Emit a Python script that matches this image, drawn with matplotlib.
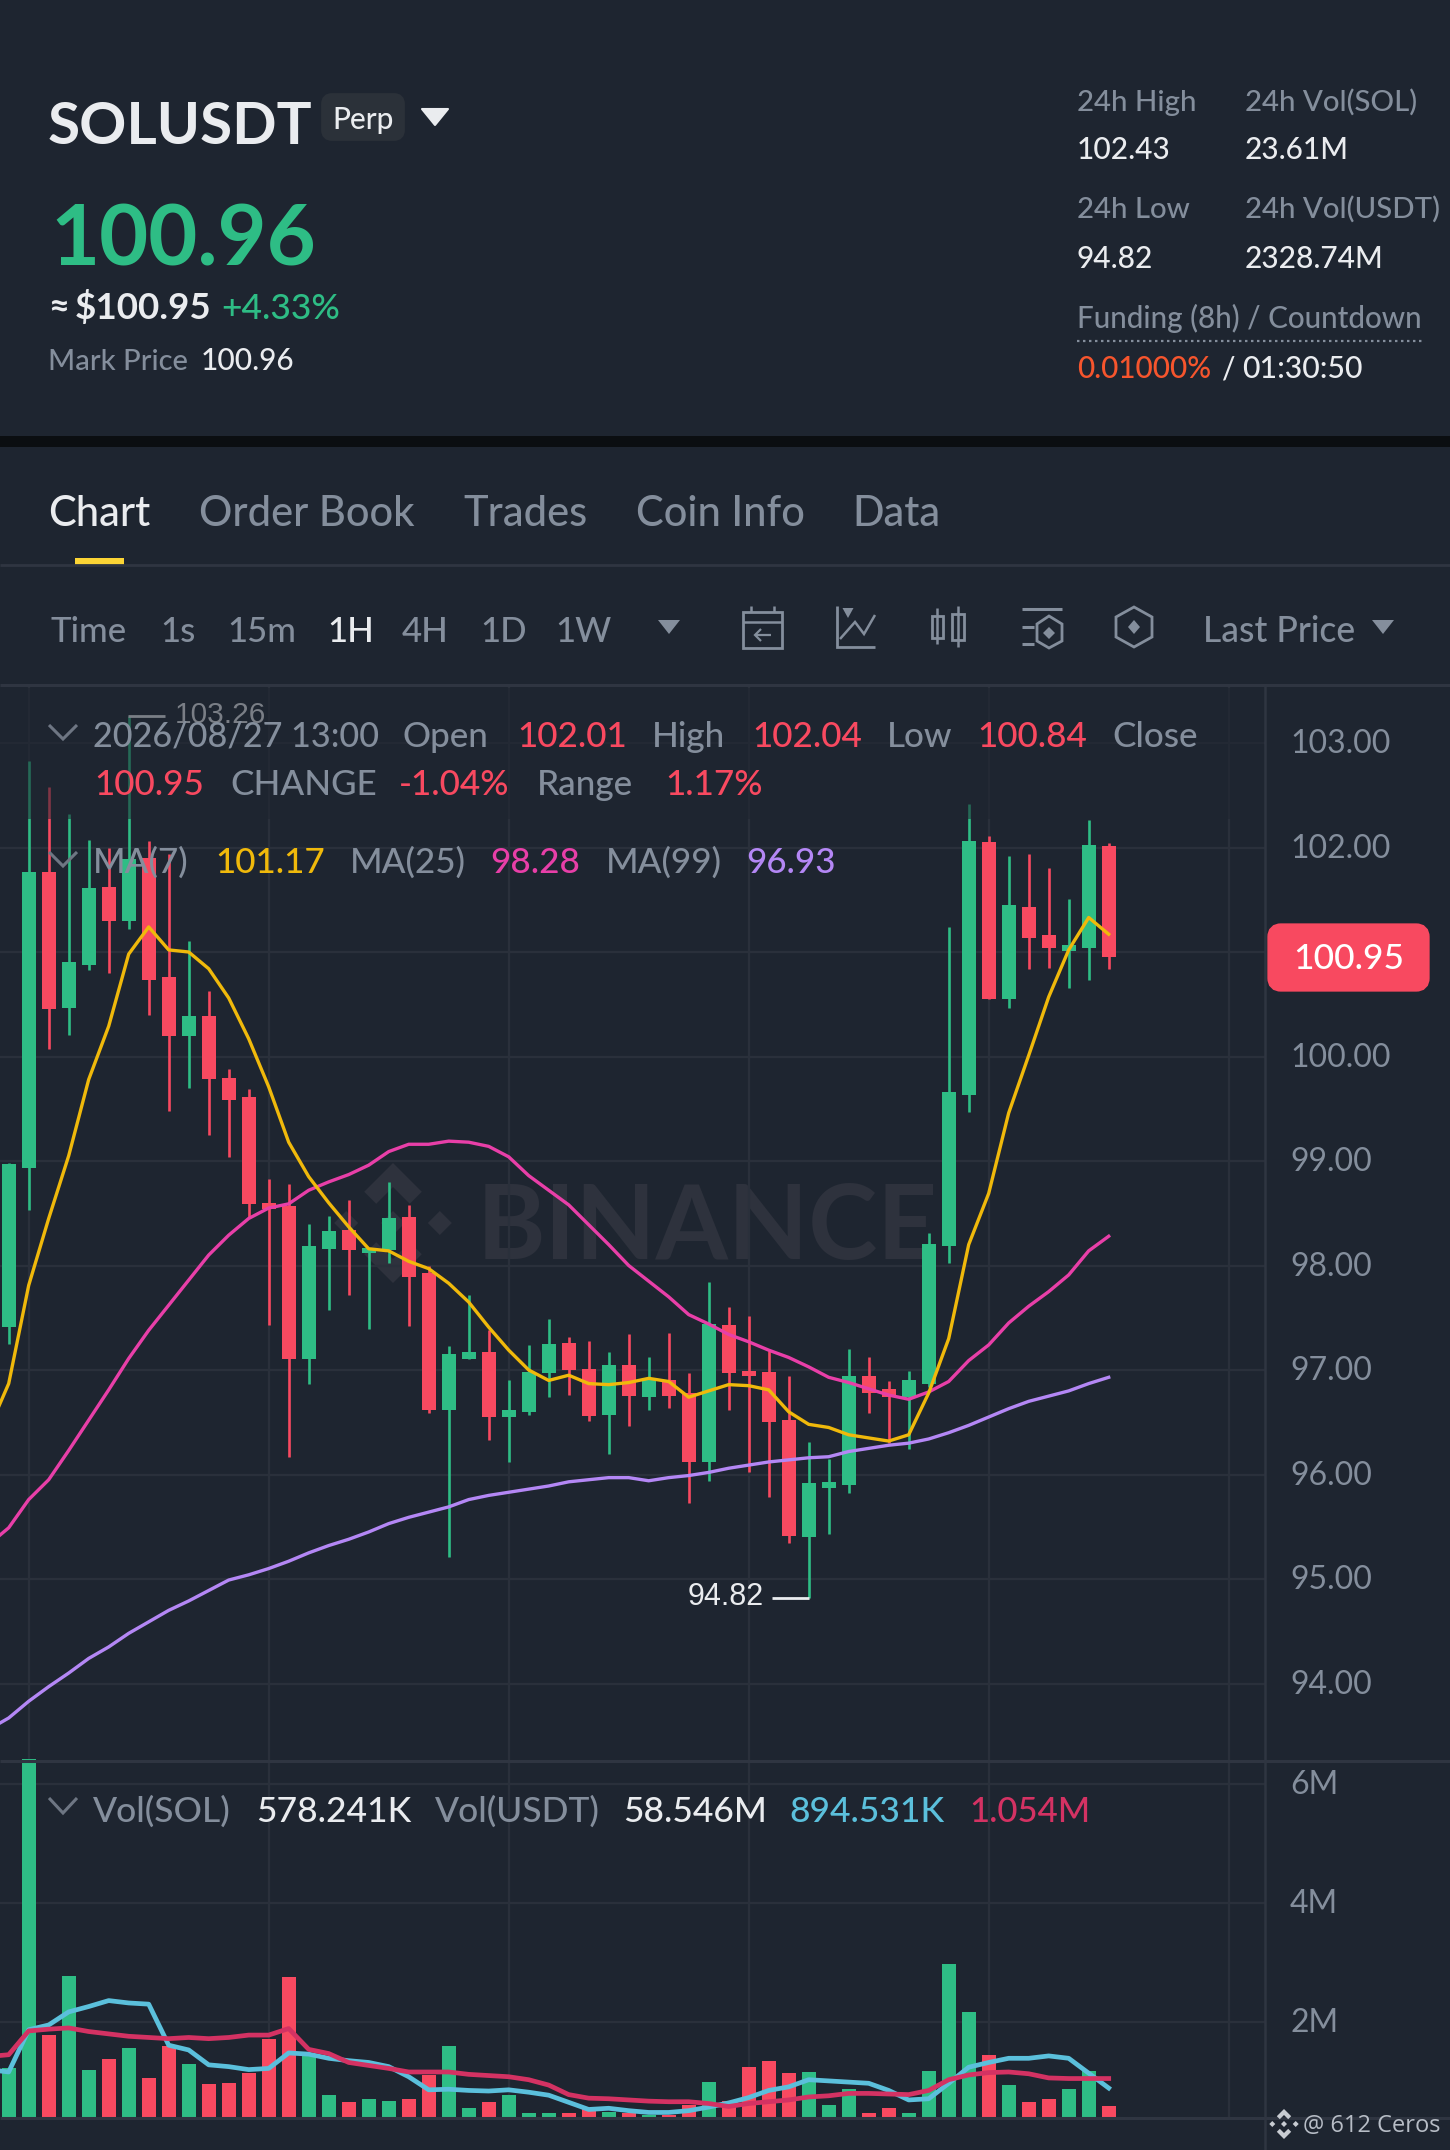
import numpy as np
import matplotlib
matplotlib.use('Agg')
import matplotlib.pyplot as plt
from matplotlib.patches import Polygon, Rectangle, FancyBboxPatch
from matplotlib.transforms import ScaledTranslation

plt.rcParams['font.family'] = ['Lato', 'DejaVu Sans']

# candles
opens = [97.41, 98.93, 101.77, 100.46, 100.88, 101.62, 101.30, 101.90, 100.76, 100.20, 100.39, 99.79, 99.61, 98.60,
         98.57, 97.11, 98.16, 98.34, 98.12, 98.15, 98.46, 97.93, 96.62, 97.11, 97.17, 96.55, 96.60, 96.97,
         97.26, 97.01, 96.57, 97.05, 96.74, 96.90, 96.78, 96.12, 97.43, 96.99, 96.98, 96.52, 95.40, 95.87,
         95.90, 96.94, 96.82, 96.74, 96.87, 98.19, 99.63, 102.05, 100.55, 101.43, 101.16, 101.01, 101.04, 102.01]
highs = [98.98, 102.83, 102.58, 102.32, 102.07, 102.00, 103.26, 102.06, 101.94, 101.11, 100.63, 99.88, 99.69, 98.83,
         98.78, 98.40, 98.47, 98.63, 98.17, 98.80, 98.58, 98.00, 97.23, 97.72, 97.38, 96.90, 97.24, 97.49,
         97.32, 97.28, 97.17, 97.34, 97.12, 97.35, 96.97, 97.84, 97.60, 97.52, 97.18, 96.94, 96.31, 96.15,
         97.20, 97.12, 96.89, 96.99, 98.31, 101.24, 102.42, 102.11, 101.92, 101.94, 101.80, 101.51, 102.26, 102.04]
lows = [97.25, 98.53, 100.07, 100.21, 100.83, 100.80, 101.22, 100.40, 99.48, 99.70, 99.25, 99.04, 98.45, 97.43,
        96.17, 96.87, 97.57, 97.72, 97.39, 98.02, 97.42, 96.59, 95.21, 97.11, 96.33, 96.12, 96.57, 96.74,
        96.76, 96.51, 96.20, 96.46, 96.62, 96.64, 95.73, 95.94, 96.62, 96.02, 95.78, 95.34, 94.82, 95.43,
        95.82, 96.59, 96.30, 96.24, 96.84, 98.02, 99.47, 100.55, 100.46, 100.84, 100.85, 100.66, 100.73, 100.84]
closes = [98.97, 101.77, 100.45, 100.90, 101.61, 101.30, 101.89, 100.73, 100.20, 100.39, 99.78, 99.58, 98.59, 98.54,
          97.11, 98.19, 98.33, 98.15, 98.17, 98.45, 97.89, 96.62, 97.15, 97.17, 96.55, 96.62, 96.98, 97.25,
          97.00, 96.56, 97.05, 96.75, 96.90, 96.75, 96.12, 97.44, 96.97, 96.94, 96.50, 95.41, 95.92, 95.93,
          96.94, 96.78, 96.74, 96.90, 98.21, 99.66, 102.06, 100.55, 101.45, 101.13, 101.04, 101.07, 102.02, 100.95]
volumes = [1.22, 6.42, 1.78, 2.78, 1.20, 1.37, 1.57, 1.06, 1.60, 1.29, 0.96, 0.98, 1.14, 1.72,
           2.76, 1.45, 0.78, 0.66, 0.70, 0.67, 0.71, 1.11, 1.59, 0.55, 0.66, 0.77, 0.47, 0.47,
           0.47, 0.53, 0.49, 0.47, 0.44, 0.44, 0.61, 1.00, 0.67, 1.24, 1.34, 1.15, 1.16, 0.60,
           0.88, 0.47, 0.55, 0.47, 1.18, 2.97, 2.17, 1.45, 0.94, 0.65, 0.71, 0.87, 1.18, 0.58]

# moving averages, first value is the candle just left of the frame
ma7 = [96.43, 96.87, 97.81, 98.45, 99.05, 99.78, 100.29, 100.98, 101.24, 101.02, 101.00, 100.84, 100.56, 100.17, 99.71,
       99.18, 98.85, 98.60, 98.37, 98.16, 98.14, 98.04, 97.97, 97.83, 97.65, 97.41, 97.19, 97.00, 96.90,
       96.95, 96.87, 96.86, 96.88, 96.92, 96.89, 96.74, 96.80, 96.86, 96.85, 96.81, 96.60, 96.48, 96.45,
       96.38, 96.35, 96.32, 96.38, 96.78, 97.30, 98.20, 98.69, 99.46, 100.01, 100.57, 101.02, 101.33, 101.17]
ma25 = [95.33, 95.49, 95.76, 95.95, 96.23, 96.52, 96.81, 97.11, 97.38, 97.62, 97.86, 98.10, 98.29, 98.45, 98.55,
        98.59, 98.72, 98.80, 98.87, 98.96, 99.09, 99.16, 99.16, 99.19, 99.18, 99.14, 99.04, 98.86, 98.72,
        98.58, 98.39, 98.20, 98.00, 97.85, 97.70, 97.53, 97.44, 97.34, 97.27, 97.19, 97.12, 97.03, 96.93,
        96.88, 96.82, 96.76, 96.72, 96.79, 96.89, 97.09, 97.24, 97.45, 97.61, 97.75, 97.91, 98.14, 98.28]
ma99 = [93.56, 93.67, 93.83, 93.97, 94.10, 94.24, 94.35, 94.48, 94.59, 94.70, 94.79, 94.89, 94.99, 95.04, 95.10,
        95.17, 95.25, 95.32, 95.38, 95.45, 95.53, 95.59, 95.64, 95.69, 95.76, 95.80, 95.83, 95.86, 95.89,
        95.93, 95.95, 95.97, 95.97, 95.94, 95.97, 95.99, 96.02, 96.06, 96.09, 96.12, 96.14, 96.16, 96.17,
        96.22, 96.25, 96.28, 96.30, 96.34, 96.40, 96.47, 96.55, 96.63, 96.70, 96.75, 96.80, 96.87, 96.93]
vol_ma_fast = [1.20, 1.16, 1.87, 1.95, 2.17, 2.26, 2.36, 2.32, 2.30, 1.61, 1.53, 1.28, 1.25, 1.20, 1.22,
               1.48, 1.46, 1.39, 1.35, 1.32, 1.25, 1.08, 0.86, 0.87, 0.85, 0.84, 0.86, 0.82, 0.77,
               0.65, 0.53, 0.55, 0.51, 0.48, 0.48, 0.51, 0.57, 0.64, 0.73, 0.85, 0.91, 1.03, 1.01,
               0.99, 0.97, 0.85, 0.69, 0.71, 0.97, 1.24, 1.32, 1.39, 1.39, 1.43, 1.39, 1.14, 0.89]
vol_ma_slow = [1.42, 1.45, 1.85, 1.88, 1.90, 1.84, 1.80, 1.76, 1.74, 1.72, 1.74, 1.72, 1.74, 1.78, 1.78,
               1.89, 1.54, 1.47, 1.32, 1.27, 1.22, 1.16, 1.16, 1.16, 1.12, 1.10, 1.08, 1.03, 0.94,
               0.78, 0.72, 0.71, 0.69, 0.67, 0.66, 0.66, 0.63, 0.58, 0.63, 0.66, 0.69, 0.74, 0.76,
               0.80, 0.80, 0.79, 0.78, 0.85, 1.03, 1.11, 1.15, 1.16, 1.13, 1.06, 1.05, 1.05, 1.05]

price_ticks = [94, 95, 96, 97, 98, 99, 100, 101, 102, 103]
# 101.00 sits under the last price tag, so it has no label
price_tick_labels = ['94.00', '95.00', '96.00', '97.00', '98.00', '99.00', '100.00', '', '102.00', '103.00']
vol_ticks = [2, 4, 6]
vol_tick_labels = ['2M', '4M', '6M']
grid_candles = [1, 13, 25, 37, 49, 61]

BG = '#1E2530'
GREEN = '#2EBD85'
RED = '#F84960'
GREY = '#848E9C'
WHITE = '#EAECEF'
GRID = '#2A303B'
LINE = '#2F3541'
WMARK = '#2E323D'

W, H = 1450, 2150
fig = plt.figure(figsize=(W / 100, H / 100), dpi=100, facecolor=BG)


def pane(x0, y0, x1, y1, z):
    a = fig.add_axes([x0 / W, 1 - y1 / H, (x1 - x0) / W, (y1 - y0) / H], zorder=z)
    a.patch.set_alpha(0)
    for s in a.spines.values():
        s.set_visible(False)
    return a


def logo(a, cx, cy, r, color, z=1):
    chev = np.array([(0, -1), (.48, -.52), (.28, -.32), (0, -.6), (-.28, -.32), (-.48, -.52)])
    dia = np.array([(0, -.2), (.2, 0), (0, .2), (-.2, 0)])
    shapes = [chev, chev * [1, -1], dia, dia + [.78, 0], dia + [-.78, 0]]
    for s in shapes:
        a.add_patch(Polygon(s * r + [cx, cy], closed=True, fc=color, ec='none', zorder=z))


def lift_labels(a, px):
    for lbl in a.get_yticklabels():
        lbl.set_transform(lbl.get_transform() + ScaledTranslation(0, px / 100, fig.dpi_scale_trans))


# watermark lies under everything
wm = pane(0, 0, W, H, 0)
wm.set_xlim(0, W)
wm.set_ylim(H, 0)
wm.axis('off')
wm.text(477, 1259, 'BINANCE', color=WMARK, fontsize=75, fontweight='bold', va='baseline')
logo(wm, 393, 1223, 60, WMARK)

x = np.arange(len(opens))
xma = np.arange(-1, len(opens))
xlim = (-8.7 / 20, (1265 - 8.7) / 20)

# price pane
ax = pane(0, 686, 1265, 1761, 1)
ax.set_xlim(xlim)
ax.set_ylim(103 - (1761 - 743) / 104.5, 103 - (686 - 743) / 104.5)
ax.set_xticks(grid_candles)
ax.set_yticks(price_ticks)
ax.set_yticklabels(price_tick_labels)
ax.yaxis.tick_right()
ax.tick_params(length=0, labelbottom=False, labelcolor=GREY, labelsize=23, pad=18)
lift_labels(ax, 2)
ax.grid(True, color=GRID, lw=1.6)
ax.set_axisbelow(True)
cols = [GREEN if c >= o else RED for o, c in zip(opens, closes)]
ax.vlines(x, lows, highs, colors=cols, lw=1.9, zorder=3)
ax.bar(x, np.abs(np.array(closes) - np.array(opens)), bottom=np.minimum(opens, closes), width=0.7, color=cols, zorder=3)
ax.plot(xma, ma99, color='#B487F5', lw=2.4, zorder=4)
ax.plot(xma, ma25, color='#E83FA8', lw=2.4, zorder=4)
ax.plot(xma, ma7, color='#F0B90B', lw=2.4, zorder=5)

# high / low markers
hi = int(np.argmax(highs))
lo = int(np.argmin(lows))
ax.hlines(max(highs), hi - 0.05, hi + 1.8, color=WHITE, lw=2, zorder=5)
ax.text(hi + 2.3, max(highs) - 0.07, f'{max(highs):.2f}', color=WHITE, fontsize=21.5, family='Liberation Sans', va='baseline')
ax.hlines(min(lows), lo - 1.85, lo, color=WHITE, lw=2, zorder=5)
ax.text(lo - 2.25, min(lows) - 0.07, f'{min(lows):.2f}', color=WHITE, fontsize=22, family='Liberation Sans', va='baseline', ha='right')

# volume pane
vfloor = (2141 - 2118) / 59.5
av = pane(0, 1761, 1265, 2118, 1)
av.set_xlim(xlim)
av.set_ylim(vfloor, (2141 - 1761) / 59.5)
av.set_xticks(grid_candles)
av.set_yticks(vol_ticks)
av.set_yticklabels(vol_tick_labels)
av.yaxis.tick_right()
av.tick_params(length=0, labelbottom=False, labelcolor=GREY, labelsize=23, pad=18)
lift_labels(av, 2)
av.grid(True, color=GRID, lw=1.6)
av.set_axisbelow(True)
av.bar(x, np.array(volumes) - vfloor, bottom=vfloor, width=0.7, color=cols, zorder=3, clip_on=False)
av.plot(xma, vol_ma_fast, color='#5BC0DC', lw=3.4, zorder=4)
av.plot(xma, vol_ma_slow, color='#D43263', lw=3.4, zorder=5)

# everything else in pixels on top
ov = pane(0, 0, W, H, 2)
ov.set_xlim(0, W)
ov.set_ylim(H, 0)
ov.axis('off')


def t(px, py, s, c=GREY, size=21, weight='medium', **kw):
    ov.text(px, py, s, color=c, fontsize=size, fontweight=weight, va='baseline', **kw)


def seg(xs, ys, c=GREY, lw=1.8, **kw):
    ov.plot(xs, ys, color=c, lw=lw, solid_capstyle='butt', solid_joinstyle='miter', **kw)


def tri(cx, y0, w, h, c=GREY):
    ov.add_patch(Polygon([(cx - w / 2, y0), (cx + w / 2, y0), (cx, y0 + h)], closed=True, fc=c, ec='none'))


# dim band behind the legend rows
ov.add_patch(Rectangle((0, 688), 1264, 131, fc=BG, ec='none', alpha=0.55, zorder=0))

# frame lines
ov.add_patch(Rectangle((0, 436), W, 11, fc='#0B0E11', ec='none'))
seg([0, W], [565, 565], LINE, 2)
seg([0, W], [685, 685], LINE, 2.2)
seg([0, W], [1761, 1761], LINE, 2.2)
seg([0, W], [2118, 2118], LINE, 2.2)
seg([1265, 1265], [686, H], LINE, 1.8)

# header left
t(48, 144, 'SOLUSDT', WHITE, 42, 'bold')
ov.add_patch(FancyBboxPatch((326, 98), 74, 38, boxstyle='round,pad=0,rounding_size=6', fc='#2B3139', ec='#2B3139', lw=7))
t(332, 129, 'Perp', WHITE, 21.5)
ov.add_patch(Polygon([(422, 109), (448, 109), (435, 125)], closed=True, fc=WHITE, ec=WHITE, lw=1.5, joinstyle='round'))
t(50, 266, '100.96', GREEN, 61, 'bold')
t(48, 319, '≈', WHITE, 26, 'bold')
t(75, 319, '$100.95', WHITE, 26.5, 'bold')
t(221, 319, '+4.33%', GREEN, 25.5)
t(48, 370, 'Mark Price', GREY, 21)
t(201, 370, '100.96', WHITE, 21.5)

# header right
t(1077, 111, '24h High', GREY, 21.2)
t(1245, 111, '24h Vol(SOL)', GREY, 21.2)
t(1077, 159, '102.43', WHITE, 21.5)
t(1245, 159, '23.61M', WHITE, 21.5)
t(1077, 218, '24h Low', GREY, 21.2)
t(1245, 218, '24h Vol(USDT)', GREY, 21.2)
t(1077, 268, '94.82', WHITE, 21.5)
t(1245, 268, '2328.74M', WHITE, 21.5)
t(1077, 328, 'Funding (8h) / Countdown', GREY, 21.3)
ov.plot([1077, 1422], [341, 341], color=GREY, lw=1.6, ls=(0, (1.1, 1.6)))
t(1077, 378, '0.01000%', '#F6552D', 21.3)
t(1221, 378, '/', WHITE, 21.3)
t(1242, 378, '01:30:50', WHITE, 21.7)

# tabs
t(48, 526, 'Chart', WHITE, 30)
t(199, 526, 'Order Book', GREY, 30)
t(463, 526, 'Trades', GREY, 30)
t(636, 526, 'Coin Info', GREY, 30)
t(852, 526, 'Data', GREY, 30)
ov.add_patch(Rectangle((75, 558), 49, 8, fc='#FCD535', ec='none'))

# toolbar
for px, s, c in [(51, 'Time', GREY), (160, '1s', GREY), (227, '15m', GREY), (327, '1H', WHITE),
                 (402, '4H', GREY), (480, '1D', GREY), (555, '1W', GREY)]:
    t(px, 642, s, c, 25)
tri(669, 620, 22, 14)
t(1203, 642, 'Last Price', GREY, 25.6)
tri(1383, 620, 22, 14)

# calendar icon
ov.add_patch(Rectangle((743, 612), 39, 36, fc='none', ec=GREY, lw=2))
seg([743, 782], [622, 622])
seg([751, 751], [606, 612])
seg([774, 774], [606, 612])
seg([756, 771], [635, 635], lw=1.6)
seg([761, 755, 761], [629, 635, 641], lw=1.6)
# line chart icon
seg([837, 837, 875], [606, 647, 647], lw=2)
seg([840, 855, 864, 875], [639, 622, 634, 615], lw=1.8)
tri(848, 608, 11, 10)
# candle icon
ov.add_patch(Rectangle((932, 616), 11, 22, fc='none', ec=GREY, lw=2))
ov.add_patch(Rectangle((952, 614), 12, 26, fc='none', ec=GREY, lw=2))
seg([937.5, 937.5], [608, 644], lw=1.8)
seg([958, 958], [606, 647], lw=1.8)
# settings icon
seg([1022, 1062], [609, 609], lw=2.2)
seg([1022, 1034], [627, 627], lw=2.2)
seg([1022, 1034], [644, 644], lw=2.2)
ov.add_patch(Polygon([(1049, 616), (1062, 624), (1062, 641), (1049, 648), (1037, 641), (1037, 624)], closed=True, fc='none', ec=GREY, lw=2))
ov.add_patch(Polygon([(1049, 627), (1055, 633), (1049, 639), (1043, 633)], closed=True, fc=GREY, ec='none'))
# hexagon icon
ov.add_patch(Polygon([(1134, 607), (1152, 617), (1152, 637), (1134, 647), (1116, 637), (1116, 617)], closed=True, fc='none', ec=GREY, lw=2))
ov.add_patch(Polygon([(1134, 620), (1140, 627), (1134, 634), (1128, 627)], closed=True, fc=GREY, ec='none'))

# legend rows
seg([49, 63, 77], [725, 739, 725], '#6E7683', 2.2)
t(93, 747, '2026/08/27 13:00', GREY, 24.6)
t(403, 747, 'Open', GREY, 25.2)
t(517, 747, '102.01', RED, 25.2)
t(652, 747, 'High', GREY, 25.2)
t(752, 747, '102.04', RED, 25.2)
t(887, 747, 'Low', GREY, 25.2)
t(977, 747, '100.84', RED, 25.2)
t(1112, 747, 'Close', GREY, 25.2)
t(94, 795, '100.95', RED, 25.2)
t(230, 795, 'CHANGE', GREY, 25.2)
t(399, 795, '-1.04%', RED, 25.2)
t(537, 795, 'Range', GREY, 25.2)
t(665, 795, '1.17%', RED, 25.2)
seg([49, 63, 77], [852, 866, 852], '#6E7683', 2.2)
t(93, 873, 'MA(7)', GREY, 25.2)
t(215, 873, '101.17', '#F0B90B', 25.2)
t(350, 873, 'MA(25)', GREY, 25.2)
t(490, 873, '98.28', '#E83FA8', 25.2)
t(606, 873, 'MA(99)', GREY, 25.2)
t(746, 873, '96.93', '#B487F5', 25.2)

seg([49, 63, 77], [1798, 1813, 1798], '#6E7683', 2.2)
t(93, 1822, 'Vol(SOL)', GREY, 25.5)
t(256, 1822, '578.241K', WHITE, 25.5)
t(435, 1822, 'Vol(USDT)', GREY, 25.5)
t(623, 1822, '58.546M', WHITE, 25.5)
t(789, 1822, '894.531K', '#5BC0DC', 25.5)
t(969, 1822, '1.054M', '#D43263', 25)

# price tag
ov.add_patch(FancyBboxPatch((1275, 931), 147, 53, boxstyle='round,pad=0,rounding_size=6', fc=RED, ec=RED, lw=11))
t(1349, 969, '100.95', 'white', 25.5, ha='center')

# bottom right credit
logo(ov, 1284, 2124, 15, '#C8CCD2', z=3)
t(1303, 2132, '@ 612 Ceros', '#B7BDC6', 17, family='Open Sans')

fig.savefig('out.png', dpi=100, facecolor=BG)
